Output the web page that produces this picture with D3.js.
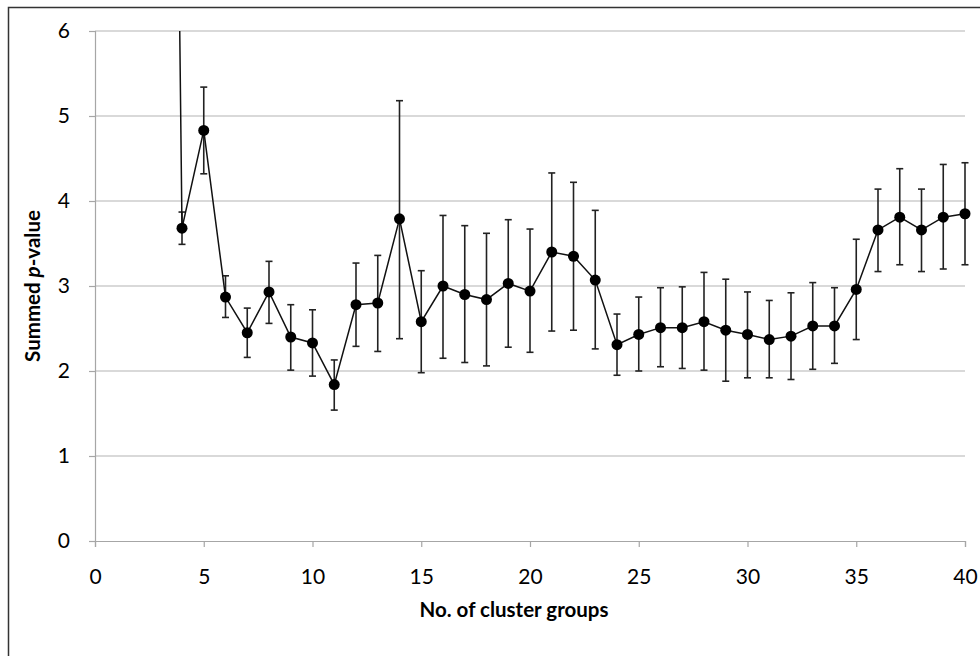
<!DOCTYPE html>
<html lang="en">
<head>
<meta charset="UTF-8">
<title>Summed p-value by number of cluster groups</title>
<script src="https://d3js.org/d3.v7.min.js"></script>
<style>
    body { margin: 0; background: #fff; }
    .tick-label { font-family: Lato, "Open Sans", sans-serif; font-size: 21px; fill: #000; }
    .axis-title { font-family: Lato, "Open Sans", sans-serif; font-size: 20.5px; font-weight: bold; fill: #000; }
</style>
</head>
<body>
<svg id="chart" width="980" height="656"></svg>
<script>
    // cluster group counts (x=3 lies far above the plot and is clipped)
    const groups = [3, 4, 5, 6, 7, 8, 9, 10, 11, 12, 13, 14, 15, 16, 17, 18, 19, 20, 21,
        22, 23, 24, 25, 26, 27, 28, 29, 30, 31, 32, 33, 34, 35, 36, 37, 38, 39, 40];
    const summedP = [26, 3.68, 4.83, 2.87, 2.45, 2.93, 2.40, 2.33, 1.84, 2.78, 2.80, 3.79, 2.58,
        3.00, 2.90, 2.84, 3.03, 2.94, 3.40, 3.35, 3.07, 2.31, 2.43, 2.51, 2.51, 2.58, 2.48,
        2.43, 2.37, 2.41, 2.53, 2.53, 2.96, 3.66, 3.81, 3.66, 3.81, 3.85];
    const errUpper = [null, 3.87, 5.34, 3.12, 2.74, 3.29, 2.78, 2.72, 2.13, 3.27, 3.36, 5.18, 3.18,
        3.83, 3.71, 3.62, 3.78, 3.67, 4.33, 4.22, 3.89, 2.67, 2.87, 2.98, 2.99, 3.16, 3.08,
        2.93, 2.83, 2.92, 3.04, 2.98, 3.55, 4.14, 4.38, 4.14, 4.43, 4.45];
    const errLower = [null, 3.49, 4.32, 2.63, 2.16, 2.56, 2.01, 1.94, 1.54, 2.29, 2.23, 2.38, 1.98,
        2.15, 2.10, 2.06, 2.28, 2.22, 2.47, 2.48, 2.26, 1.95, 2.00, 2.05, 2.03, 2.01, 1.88,
        1.92, 1.92, 1.90, 2.02, 2.09, 2.37, 3.17, 3.25, 3.17, 3.20, 3.25];
    const xTicks = [0, 5, 10, 15, 20, 25, 30, 35, 40];
    const yTicks = [0, 1, 2, 3, 4, 5, 6];

    const data = groups.map((g, i) => ({ g, v: summedP[i], hi: errUpper[i], lo: errLower[i] }));

    const svg = d3.select("#chart");
    const margin = { top: 31, right: 15, bottom: 115, left: 95 };
    const width = +svg.attr("width");
    const height = +svg.attr("height");

    const x = d3.scaleLinear().domain([0, 40]).range([margin.left, width - margin.right]);
    const y = d3.scaleLinear().domain([0, 6]).range([height - margin.bottom, margin.top]);

    // outer frame (only top and left visible in crop)
    svg.append("path")
        .attr("d", `M8.5,${height} V7.5 H${width}`)
        .attr("fill", "none").attr("stroke", "#333").attr("stroke-width", 1.5);

    // gridlines
    svg.selectAll(".grid").data(yTicks.filter(t => t > 0)).enter().append("line")
        .attr("x1", x(0)).attr("x2", x(40))
        .attr("y1", d => y(d)).attr("y2", d => y(d))
        .attr("stroke", "#b3b3b3").attr("stroke-width", 1.2);

    // y axis
    const yAxis = svg.append("g").attr("transform", `translate(${x(0)},0)`)
        .call(d3.axisLeft(y).tickValues(yTicks).tickSize(6).tickPadding(19).tickFormat(d3.format("d")));
    yAxis.select(".domain").attr("stroke", "#a6a6a6").attr("stroke-width", 1.2);
    yAxis.selectAll(".tick line").attr("stroke", "#a6a6a6").attr("stroke-width", 1.2);
    yAxis.selectAll(".tick text").attr("class", "tick-label");
    yAxis.attr("font-size", null).attr("font-family", null);

    // x axis
    const xAxis = svg.append("g").attr("transform", `translate(0,${y(0)})`)
        .call(d3.axisBottom(x).tickValues(xTicks).tickSize(6).tickPadding(22).tickFormat(d3.format("d")));
    xAxis.select(".domain").attr("stroke", "#a6a6a6").attr("stroke-width", 1.2);
    xAxis.selectAll(".tick line").attr("stroke", "#a6a6a6").attr("stroke-width", 1.2);
    xAxis.selectAll(".tick text").attr("class", "tick-label");
    xAxis.attr("font-size", null).attr("font-family", null);

    // clip vertically at plot area
    svg.append("clipPath").attr("id", "clip").append("rect")
        .attr("x", 0).attr("y", y(6)).attr("width", width).attr("height", y(0) - y(6));
    const plot = svg.append("g").attr("clip-path", "url(#clip)");

    // error bars
    const eb = data.filter(d => d.hi != null);
    plot.selectAll(".err").data(eb).enter().append("line")
        .attr("x1", d => x(d.g)).attr("x2", d => x(d.g))
        .attr("y1", d => y(d.hi)).attr("y2", d => y(d.lo))
        .attr("stroke", "#222").attr("stroke-width", 1.6);
    plot.selectAll(".capHi").data(eb).enter().append("line")
        .attr("x1", d => x(d.g) - 3.5).attr("x2", d => x(d.g) + 3.5)
        .attr("y1", d => y(d.hi)).attr("y2", d => y(d.hi))
        .attr("stroke", "#222").attr("stroke-width", 1.6);
    plot.selectAll(".capLo").data(eb).enter().append("line")
        .attr("x1", d => x(d.g) - 3.5).attr("x2", d => x(d.g) + 3.5)
        .attr("y1", d => y(d.lo)).attr("y2", d => y(d.lo))
        .attr("stroke", "#222").attr("stroke-width", 1.6);

    // series line
    plot.append("path").datum(data)
        .attr("d", d3.line().x(d => x(d.g)).y(d => y(d.v)))
        .attr("fill", "none").attr("stroke", "#111").attr("stroke-width", 1.5);

    // markers
    plot.selectAll(".pt").data(data).enter().append("circle")
        .attr("cx", d => x(d.g)).attr("cy", d => y(d.v)).attr("r", 5.5)
        .attr("fill", "#000");

    // axis titles
    svg.append("text").attr("class", "axis-title")
        .attr("x", (x(0) + x(40)) / 2 - 16).attr("y", 617)
        .attr("text-anchor", "middle")
        .text("No. of cluster groups");

    const yt = svg.append("text").attr("class", "axis-title")
        .attr("transform", `translate(40,${(y(0) + y(6)) / 2}) rotate(-90)`)
        .attr("text-anchor", "middle");
    yt.append("tspan").text("Summed ");
    yt.append("tspan").attr("font-style", "italic").text("p");
    yt.append("tspan").text("-value");
</script>
</body>
</html>
